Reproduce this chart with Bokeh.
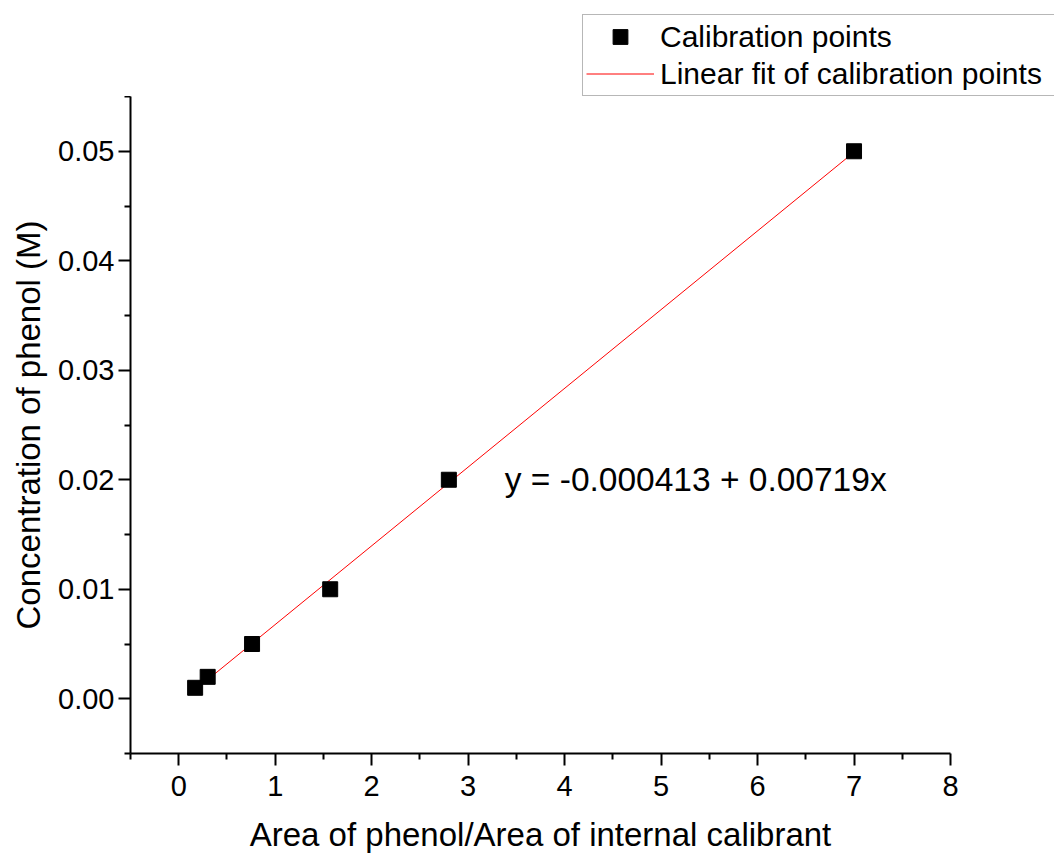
from bokeh.plotting import figure
from bokeh.layouts import column
from bokeh.models import (ColumnDataSource, FixedTicker, Legend, LegendItem,
                          Label, Range1d, CustomJSTickFormatter)
from bokeh.embed import file_html
from bokeh.resources import INLINE

# Calibration data: area ratio (phenol / internal calibrant) vs concentration (M)
area_ratio = [0.17, 0.30, 0.76, 1.57, 2.80, 7.00]
concentration = [0.001, 0.002, 0.005, 0.010, 0.020, 0.050]

# Linear fit coefficients
fit_intercept = -0.000413
fit_slope = 0.00719

x_major = [0, 1, 2, 3, 4, 5, 6, 7, 8]
x_minor = [-0.5, 0.5, 1.5, 2.5, 3.5, 4.5, 5.5, 6.5, 7.5]
y_major = [0.00, 0.01, 0.02, 0.03, 0.04, 0.05]
y_minor = [-0.005, 0.005, 0.015, 0.025, 0.035, 0.045, 0.055]

FONT = "Liberation Sans"
TOP_H = 96

# ---- main plot -------------------------------------------------------------
p = figure(width=1054, height=855 - TOP_H, output_backend="svg", toolbar_location=None,
           x_range=Range1d(-0.5, 8), y_range=Range1d(-0.005, 0.055),
           min_border_left=130, min_border_right=104,
           min_border_top=0, min_border_bottom=101)
p.outline_line_color = None
p.xgrid.visible = False
p.ygrid.visible = False

pts = ColumnDataSource(dict(x=area_ratio, y=concentration))
fit_x = [min(area_ratio), max(area_ratio)]
fit = ColumnDataSource(dict(x=fit_x, y=[fit_intercept + fit_slope * v for v in fit_x]))

pts_style = dict(marker="square", size=15, fill_color="black", line_color="black")
fit_style = dict(line_color="red", line_width=1)

r_fit = p.line("x", "y", source=fit, **fit_style)
r_pts = p.scatter("x", "y", source=pts, **pts_style)

for ax, major, minor in ((p.xaxis[0], x_major, x_minor), (p.yaxis[0], y_major, y_minor)):
    ax.ticker = FixedTicker(ticks=major, minor_ticks=minor)
    ax.axis_line_width = 2
    ax.major_tick_line_width = 2
    ax.minor_tick_line_width = 2
    ax.major_tick_out = 12
    ax.major_tick_in = 0
    ax.minor_tick_out = 6
    ax.minor_tick_in = 0
    ax.major_label_text_font = FONT
    ax.major_label_text_font_size = "29px"
    ax.major_label_text_color = "black"
    ax.axis_label_text_font = FONT
    ax.axis_label_text_font_style = "normal"
    ax.axis_label_text_color = "black"

p.xaxis[0].formatter = CustomJSTickFormatter(code="return tick.toFixed(0);")
p.yaxis[0].formatter = CustomJSTickFormatter(code="return tick.toFixed(2);")
p.xaxis[0].major_label_standoff = 10
p.yaxis[0].major_label_standoff = 4
p.xaxis[0].axis_label = "Area of phenol/Area of internal calibrant"
p.yaxis[0].axis_label = "Concentration of phenol (M)"
p.xaxis[0].axis_label_text_font_size = "33px"
p.yaxis[0].axis_label_text_font_size = "33px"
p.xaxis[0].axis_label_standoff = 17
p.yaxis[0].axis_label_standoff = 8

eq = Label(x=3.38, y=0.02, text="y = -0.000413 + 0.00719x",
           text_font=FONT, text_font_size="33.5px", text_baseline="middle",
           text_color="black")
p.add_layout(eq)

# ---- legend strip above the plot -------------------------------------------
# Same sources as the main plot; the y range keeps the data out of view so
# only the legend shows in this strip.
top = figure(width=1054, height=TOP_H, output_backend="svg", toolbar_location=None,
             x_range=Range1d(-0.5, 8), y_range=Range1d(1, 2),
             x_axis_location=None, y_axis_location=None,
             min_border_left=0, min_border_right=0, min_border_top=0, min_border_bottom=0)
top.frame_align = False
top.outline_line_color = None
top.xgrid.visible = False
top.ygrid.visible = False

key_fit = top.line("x", "y", source=fit, **fit_style)
key_pts = top.scatter("x", "y", source=pts, **pts_style)

legend = Legend(items=[LegendItem(label="Calibration points", renderers=[key_pts]),
                       LegendItem(label="Linear fit of calibration points", renderers=[key_fit])],
                location=(582, 0), orientation="vertical",
                glyph_width=68, glyph_height=37, label_height=37, label_width=420,
                label_standoff=6, padding=3, spacing=0, margin=0,
                label_text_font=FONT, label_text_font_size="30px",
                label_text_color="black",
                border_line_color="#707070", border_line_width=1,
                background_fill_color="white", background_fill_alpha=1)
top.add_layout(legend)

layout = column(top, p, spacing=0)
open("out.html", "w").write(file_html(layout, INLINE))
